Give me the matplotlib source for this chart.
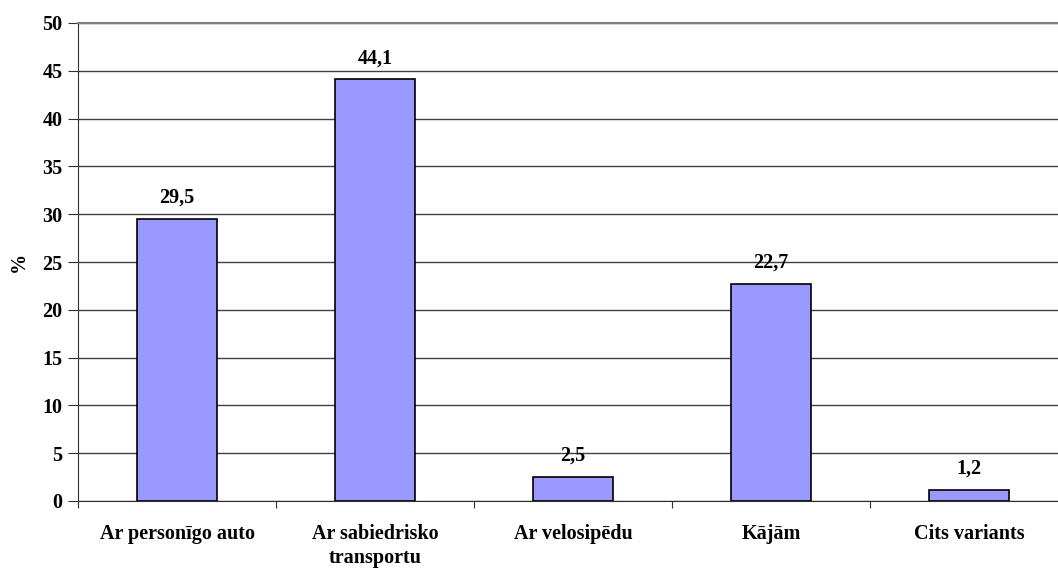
import matplotlib
matplotlib.use("Agg")
import matplotlib.pyplot as plt
import numpy as np

categories = ["Ar personīgo auto", "Ar sabiedrisko\ntransportu", "Ar velosipēdu", "Kājām", "Cits variants"]
values = [29.5, 44.1, 2.5, 22.7, 1.2]
value_labels = ["29,5", "44,1", "2,5", "22,7", "1,2"]
yticks = [0, 5, 10, 15, 20, 25, 30, 35, 40, 45, 50]

plt.rcParams['font.family'] = ['Liberation Serif', 'DejaVu Serif']
plt.rcParams['font.weight'] = 'bold'

FS = 14.5
W, H = 1058, 568
fig = plt.figure(figsize=(W/100, H/100), dpi=100)
left, right, bottom, top = 78, 1068, 501, 23
ax = fig.add_axes([left/W, (H-bottom)/H, (right-left)/W, (bottom-top)/H])

x = np.arange(len(categories))
ax.bar(x, values, width=0.4, color='#9999FF', edgecolor='black', linewidth=1.2, zorder=3)
for xi, v, lab in zip(x, values, value_labels):
    ax.annotate(lab, (xi, v), xytext=(0, 8), textcoords='offset points', ha='center', va='bottom',
                fontsize=FS, fontweight='bold')

ax.set_xlim(-0.5, len(categories)-0.5)
ax.set_ylim(0, 50)
ax.set_yticks(yticks)
ax.set_yticklabels([str(t) for t in yticks], fontsize=FS, fontweight='bold')
ax.yaxis.grid(True, color='#404040', linewidth=1.0, zorder=0)
ax.set_axisbelow(True)

ax.set_xticks(np.arange(len(categories)+1) - 0.5)
ax.set_xticklabels([])
ax.set_xticks(x, minor=True)
ax.set_xticklabels(categories, minor=True, fontsize=FS, fontweight='bold', linespacing=1.25)
ax.tick_params(axis='x', which='minor', length=0, pad=16.5)
ax.tick_params(axis='x', which='major', length=5, direction='out', color='#303030')
ax.tick_params(axis='y', length=7, direction='out', color='#303030', pad=4)

for s in ['top', 'right']:
    ax.spines[s].set_visible(False)
ax.spines['left'].set_color('#303030')
ax.spines['bottom'].set_color('#303030')
ax.spines['top'].set_visible(True)
ax.spines['top'].set_color('#808080')
ax.spines['top'].set_linewidth(1.5)

ax.set_ylabel('%', fontsize=FS, fontweight='bold', labelpad=10)

fig.savefig('out.png', dpi=100)
